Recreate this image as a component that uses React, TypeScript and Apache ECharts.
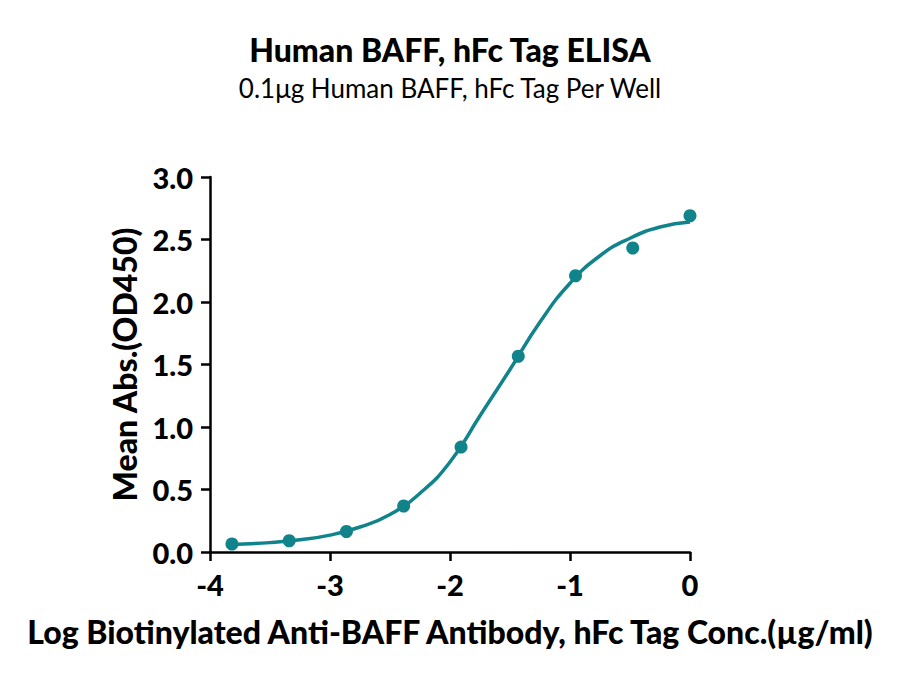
import React, { useEffect, useRef } from 'react';
import * as echarts from 'echarts';

// measured points (log conc, OD450)
const pointX = [-3.817, -3.34, -2.863, -2.386, -1.908, -1.431, -0.954, -0.477, 0];
const pointY = [0.064, 0.09, 0.164, 0.368, 0.839, 1.566, 2.21, 2.432, 2.69];

// fitted curve
const curveX = [-3.82, -3.5, -3.25, -3.0, -2.75, -2.5, -2.25, -2.0, -1.75, -1.5, -1.25, -1.0, -0.75, -0.5, -0.25, 0];
const curveY = [0.06, 0.075, 0.098, 0.135, 0.2, 0.3, 0.47, 0.72, 1.09, 1.46, 1.84, 2.15, 2.37, 2.51, 2.6, 2.64];

const xTicks = [-4, -3, -2, -1, 0];
const yTicks = [0, 0.5, 1, 1.5, 2, 2.5, 3];

const teal = '#11838a';
const font = 'Lato';

const App: React.FC = () => {
    const chartRef = useRef<HTMLDivElement>(null);

    useEffect(() => {
        if (!chartRef.current) return;
        const chart = echarts.init(chartRef.current, undefined, { renderer: 'svg' });

        const axisCommon = {
            axisLine: { show: true, onZero: false, lineStyle: { color: '#000', width: 2.5 } },
            axisTick: { show: true, length: 9, lineStyle: { color: '#000', width: 2.5 } },
            splitLine: { show: false },
            nameLocation: 'middle' as const,
            nameTextStyle: { fontFamily: font, fontWeight: 900, fontSize: 32, color: '#000' },
            axisLabel: { fontFamily: font, fontWeight: 900, fontSize: 29, color: '#000' },
        };

        chart.setOption({
            animation: false,
            title: {
                left: 'center',
                top: 20,
                text: 'Human BAFF, hFc Tag ELISA',
                subtext: '0.1μg Human BAFF, hFc Tag Per Well',
                itemGap: 10,
                textStyle: { fontFamily: font, fontWeight: 900, fontSize: 32, color: '#000' },
                subtextStyle: { fontFamily: font, fontSize: 26, color: '#000' },
            },
            grid: { left: 202, right: 202, top: 169, bottom: 118, containLabel: false },
            xAxis: {
                ...axisCommon,
                type: 'value',
                min: xTicks[0],
                max: xTicks[xTicks.length - 1],
                interval: 1,
                name: 'Log Biotinylated Anti-BAFF Antibody, hFc Tag Conc.(µg/ml)',
                nameGap: 63,
                axisLabel: { ...axisCommon.axisLabel, margin: 18 },
            },
            yAxis: {
                ...axisCommon,
                type: 'value',
                min: yTicks[0],
                max: yTicks[yTicks.length - 1],
                interval: 0.5,
                name: 'Mean Abs.(OD450)',
                nameGap: 70,
                axisLabel: {
                    ...axisCommon.axisLabel,
                    margin: 17,
                    formatter: (v: number) => v.toFixed(1),
                },
            },
            series: [
                {
                    type: 'line',
                    smooth: 0.5,
                    showSymbol: false,
                    data: curveX.map((x, i) => [x, curveY[i]]),
                    lineStyle: { color: teal, width: 3.5 },
                    itemStyle: { color: teal },
                    silent: true,
                },
                {
                    type: 'scatter',
                    symbolSize: 13,
                    data: pointX.map((x, i) => [x, pointY[i]]),
                    itemStyle: { color: teal, opacity: 1 },
                },
            ],
        });

        return () => {
            chart.dispose();
        };
    }, []);

    return <div ref={chartRef} style={{ width: 884, height: 662 }} />;
};

export default App;
